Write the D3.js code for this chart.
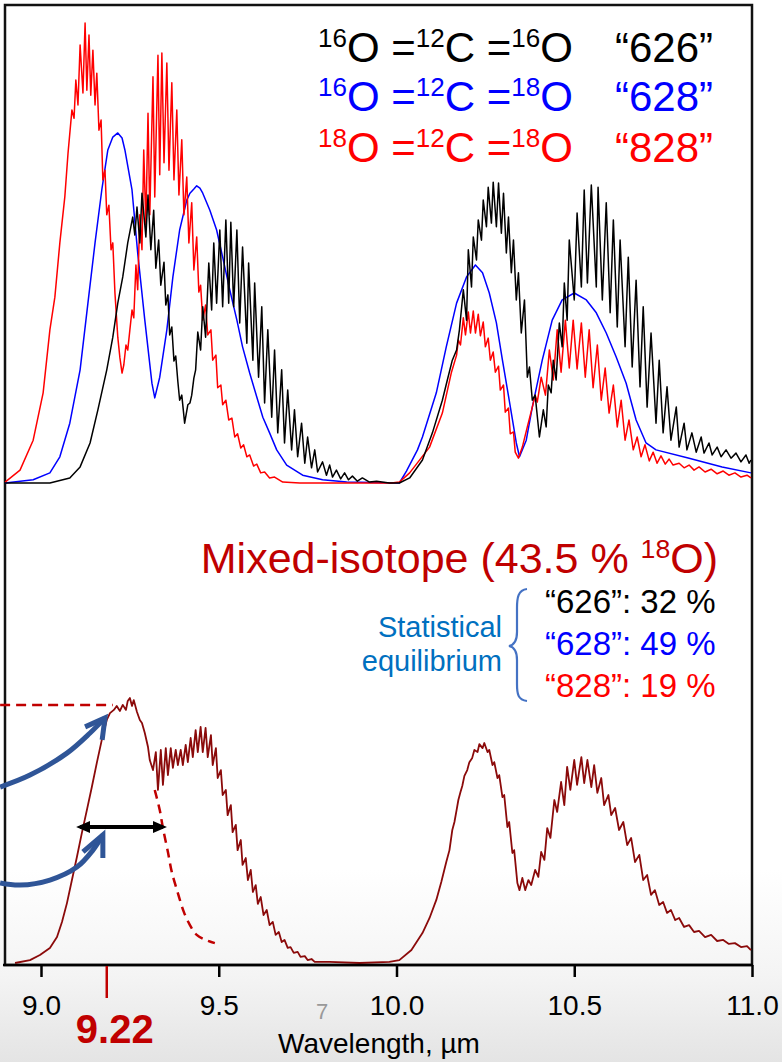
<!DOCTYPE html>
<html>
<head>
<meta charset="utf-8">
<script src="https://cdn.jsdelivr.net/npm/d3@7"></script>
<style>
body { margin: 0; background: #fff; }
text { font-family: Arial, "Liberation Sans", sans-serif; }
</style>
</head>
<body>
<div id="graphicContainer"></div>
<script>

// wavelength (µm), absorbance (arb. units, 0-100)
var wavelengthTicks = [9.0, 9.5, 10.0, 10.5, 11.0]

var spec626 = [[8.899,0],[9.025,0],[9.081,1.1],[9.110,3.5],[9.138,8.7],[9.160,15.9],[9.185,24.6],[9.202,31.7],[9.216,39.1],[9.230,44.8],[9.244,52.2],
[9.258,57.8],[9.264,53.9],[9.270,60.0],[9.278,52.2],[9.284,63.0],[9.295,53.5],[9.301,62.6],[9.309,50.7],[9.317,59.3],[9.323,46.7],[9.331,52.8],[9.337,43.0],[9.346,48.0],[9.351,38.7],[9.357,40.9],[9.362,32.2],[9.368,33.9],[9.374,26.5],[9.379,27.6],[9.385,22.0],[9.390,18.0],[9.396,19.1],[9.404,13.0],[9.413,17.0],[9.419,17.4],[9.424,19.1],[9.430,22.8],[9.435,24.6],[9.441,32.8],[9.449,28.9],[9.455,38.3],[9.463,31.7],[9.472,47.8],[9.480,37.6],[9.486,52.2],[9.494,39.1],[9.503,55.0],[9.511,38.3],[9.520,57.2],[9.528,39.1],[9.534,56.7],[9.542,38.3],[9.551,55.0],[9.559,34.8],[9.567,51.3],[9.579,30.4],[9.584,47.8],[9.596,26.7],[9.601,43.5],[9.612,23.0],[9.621,38.3],[9.629,17.4],[9.638,33.3],[9.649,14.3],[9.657,28.9],[9.666,10.9],[9.677,24.6],[9.685,8.7],[9.694,20.2],[9.705,7.2],[9.713,15.9],[9.722,5.7],[9.733,13.0],[9.742,4.3],[9.750,10.0],[9.761,3.3],[9.770,7.2],[9.778,2.4],[9.792,4.6],[9.803,1.7],[9.812,3.9],[9.820,1.3],[9.831,2.8],[9.843,0.9],[9.854,2.2],[9.865,0.7],[9.876,1.5],[9.890,0.4],[9.904,1.1],[9.924,0.2],[9.944,0.4],[9.980,0],
[10.008,0],[10.037,1.1],[10.073,5.0],[10.101,10.9],[10.129,18.0],[10.143,22.4],[10.157,26.7],[10.169,28.9],[10.177,33.3],[10.188,42.0],[10.197,35.4],[10.202,50.7],[10.211,42.6],[10.216,53.5],[10.225,48.5],[10.230,57.2],[10.239,52.8],[10.244,61.5],[10.253,55.7],[10.258,64.3],[10.267,56.5],[10.272,65.4],[10.281,55.7],[10.287,65.2],[10.295,54.3],[10.301,63.0],[10.309,50.0],[10.315,57.8],[10.323,45.7],[10.329,52.8],[10.337,39.8],[10.343,45.7],[10.351,32.6],[10.360,39.8],[10.368,23.0],[10.374,25.2],[10.382,18.0],[10.390,19.1],[10.402,10.0],[10.413,15.9],[10.421,12.2],[10.427,21.3],[10.435,19.6],[10.441,26.7],[10.449,22.4],[10.458,34.8],[10.466,29.6],[10.472,43.5],[10.480,35.4],[10.486,52.8],[10.500,39.8],[10.508,58.7],[10.520,42.6],[10.528,63.7],[10.537,43.5],[10.548,64.8],[10.562,42.6],[10.567,64.3],[10.579,39.8],[10.590,60.9],[10.601,37.0],[10.610,57.2],[10.621,33.9],[10.629,52.8],[10.643,29.6],[10.652,49.1],[10.663,25.2],[10.674,44.1],[10.685,20.9],[10.694,38.3],[10.705,16.5],[10.716,32.6],[10.730,13.0],[10.739,26.7],[10.750,10.9],[10.761,20.9],[10.772,9.3],[10.787,16.5],[10.795,7.8],[10.809,13.0],[10.817,7.2],[10.831,10.9],[10.843,6.7],[10.857,10.0],[10.865,6.5],[10.879,8.7],[10.888,6.1],[10.902,7.8],[10.913,5.7],[10.927,7.2],[10.941,5.4],[10.955,6.5],[10.969,4.6],[10.983,6.1],[10.992,4.3],[10.997,5.0]]

var spec628 = [[8.899,0],[8.978,0.7],[9.025,2.2],[9.053,5.7],[9.081,13.0],[9.110,24.6],[9.132,39.1],[9.152,52.2],[9.171,63.7],[9.188,72.4],[9.202,75.2],[9.216,76.1],[9.228,75.0],[9.236,72.4],[9.256,63.7],[9.272,50.0],[9.292,35.4],[9.312,21.7],[9.320,18.5],[9.334,23.0],[9.354,33.3],[9.371,44.8],[9.390,55.0],[9.410,61.5],[9.419,63.0],[9.430,63.9],[9.438,64.6],[9.447,64.1],[9.455,63.0],[9.475,59.3],[9.494,55.0],[9.511,49.1],[9.531,42.0],[9.551,35.4],[9.567,29.6],[9.587,23.9],[9.607,18.7],[9.624,14.3],[9.643,10.9],[9.663,7.2],[9.691,3.9],[9.736,1.7],[9.792,0.7],[9.860,0.2],[10.008,0],
[10.028,2.6],[10.059,7.2],[10.073,10.0],[10.112,19.6],[10.140,29.6],[10.169,39.1],[10.197,44.8],[10.222,47.4],[10.242,45.7],[10.261,41.3],[10.281,34.8],[10.298,26.7],[10.317,18.0],[10.337,8.7],[10.346,5.7],[10.365,9.3],[10.382,16.5],[10.410,26.7],[10.438,35.4],[10.466,39.8],[10.500,41.3],[10.534,39.8],[10.562,37.0],[10.590,32.6],[10.618,27.4],[10.646,21.7],[10.674,13.7],[10.702,8.7],[10.730,7.2],[10.823,5.4],[10.916,3.5],[10.997,2.2]]

var spec828 = [[8.899,0.2],[8.941,2.8],[8.978,9.3],[9.006,19.6],[9.025,33.3],[9.039,40.4],[9.053,52.2],[9.067,62.2],[9.076,71.7],[9.087,81.1],[9.093,79.3],[9.098,87.6],[9.104,82.2],[9.110,95.2],[9.118,84.8],[9.124,100],[9.129,85.4],[9.135,97.4],[9.140,84.3],[9.146,94.1],[9.152,82.2],[9.157,89.1],[9.163,76.7],[9.169,78.9],[9.174,65.9],[9.180,68.0],[9.185,58.3],[9.191,60.4],[9.197,50.7],[9.202,52.2],[9.208,41.3],[9.216,31.7],[9.222,27.2],[9.228,23.9],[9.233,25.7],[9.239,30.0],[9.244,28.9],[9.250,33.3],[9.256,37.6],[9.261,35.9],[9.267,47.4],[9.272,42.0],[9.278,58.3],[9.284,50.7],[9.289,72.4],[9.295,56.1],[9.301,80.4],[9.306,58.3],[9.315,88.3],[9.320,62.2],[9.329,93.0],[9.334,67.0],[9.340,93.5],[9.346,69.6],[9.354,91.3],[9.360,68.0],[9.368,87.0],[9.374,65.9],[9.382,81.1],[9.388,62.6],[9.396,74.6],[9.402,58.3],[9.410,66.5],[9.416,52.2],[9.424,60.9],[9.430,46.3],[9.438,53.5],[9.444,41.5],[9.449,43.0],[9.455,35.4],[9.463,38.7],[9.469,32.2],[9.478,33.3],[9.483,26.7],[9.492,27.8],[9.497,20.7],[9.506,21.3],[9.511,17.0],[9.520,18.0],[9.528,13.7],[9.537,14.1],[9.545,10.0],[9.553,10.7],[9.562,7.6],[9.570,8.3],[9.579,5.7],[9.587,6.1],[9.598,3.7],[9.607,4.1],[9.618,2.2],[9.629,2.4],[9.643,1.1],[9.657,1.3],[9.680,0.2],[9.728,0],[9.986,0],
[10.008,0.2],[10.037,2.2],[10.093,7.8],[10.129,15.2],[10.154,23.9],[10.169,27.8],[10.174,31.1],[10.180,30.0],[10.188,35.9],[10.194,32.2],[10.202,37.2],[10.208,32.6],[10.216,37.4],[10.222,32.6],[10.230,36.7],[10.236,32.0],[10.244,35.0],[10.250,29.6],[10.258,31.5],[10.264,26.7],[10.272,28.5],[10.278,24.1],[10.287,25.4],[10.292,20.2],[10.301,21.3],[10.306,15.4],[10.315,16.3],[10.320,10.7],[10.329,11.1],[10.334,6.7],[10.343,5.4],[10.354,7.8],[10.368,12.2],[10.382,16.5],[10.390,19.1],[10.396,17.6],[10.407,23.0],[10.419,19.1],[10.430,28.9],[10.441,22.4],[10.452,33.3],[10.463,24.1],[10.475,35.4],[10.486,25.0],[10.497,35.4],[10.508,24.8],[10.520,34.8],[10.531,23.0],[10.542,33.3],[10.553,20.7],[10.565,30.0],[10.576,18.0],[10.587,25.0],[10.598,15.2],[10.610,21.3],[10.621,12.2],[10.632,18.0],[10.643,9.3],[10.654,13.7],[10.666,7.2],[10.677,10.0],[10.688,5.7],[10.699,8.3],[10.711,4.8],[10.722,6.7],[10.733,4.3],[10.744,5.9],[10.756,4.1],[10.767,5.2],[10.778,3.9],[10.795,4.3],[10.809,3.3],[10.823,3.9],[10.837,2.8],[10.851,3.5],[10.868,2.4],[10.885,3.0],[10.902,2.0],[10.919,2.6],[10.935,1.7],[10.952,2.2],[10.969,1.3],[10.986,1.7],[10.997,1.1]]

var specMixed = [[8.927,0],[8.969,1.1],[8.997,3.0],[9.025,5.7],[9.045,9.8],[9.059,15.5],[9.073,22.6],[9.087,31.3],[9.101,40.0],[9.115,49.1],[9.129,57.7],[9.143,66.4],[9.157,75.5],[9.171,84.2],[9.185,91.7],[9.194,94.3],[9.205,95.5],[9.213,97.0],[9.222,95.1],[9.230,97.4],[9.239,95.5],[9.244,98.9],[9.250,100],[9.256,97.0],[9.261,99.2],[9.270,94.7],[9.278,91.7],[9.284,90.6],[9.292,86.8],[9.301,81.5],[9.306,76.6],[9.315,72.8],
[9.323,79.6],[9.329,65.3],[9.337,80.4],[9.343,67.2],[9.351,81.1],[9.357,70.9],[9.365,81.1],[9.371,73.6],[9.379,80.4],[9.385,74.7],[9.393,80.4],[9.399,74.7],[9.407,82.3],[9.413,75.8],[9.421,84.9],[9.427,77.7],[9.435,87.9],[9.441,79.6],[9.449,89.1],[9.455,79.6],[9.463,88.7],[9.469,77.7],[9.478,86.0],[9.483,74.7],[9.492,81.1],[9.497,69.8],
[9.506,72.8],[9.511,63.4],[9.520,65.3],[9.525,55.8],[9.534,59.6],[9.539,49.4],[9.548,52.1],[9.553,42.6],[9.562,46.4],[9.567,37.0],[9.576,39.6],[9.582,31.3],[9.590,35.1],[9.596,26.8],[9.604,29.4],[9.610,22.3],[9.618,24.9],[9.626,18.1],[9.635,20.0],[9.643,14.3],[9.652,15.5],[9.660,10.6],[9.669,11.7],[9.677,7.9],[9.685,8.7],[9.694,5.7],[9.702,6.0],[9.711,3.8],[9.722,4.2],[9.730,2.3],[9.742,2.6],[9.750,1.1],[9.761,1.5],[9.770,0.4],[9.812,0.4],[9.896,0],[9.980,0.4],
[10.008,1.1],[10.042,4.9],[10.073,11.3],[10.093,17.0],[10.112,23.8],[10.126,30.6],[10.140,38.1],[10.149,42.6],[10.157,50.2],[10.163,53.2],[10.169,57.7],[10.174,61.5],[10.180,64.5],[10.185,66.8],[10.191,70.6],[10.199,72.8],[10.205,75.8],[10.213,77.4],[10.219,80.4],[10.228,79.6],[10.233,82.6],[10.242,81.1],[10.247,83.0],[10.256,79.6],[10.261,80.4],[10.270,74.7],[10.275,75.8],[10.284,69.8],[10.289,70.9],[10.298,62.6],[10.303,63.4],[10.312,51.3],[10.317,53.2],[10.326,41.5],[10.331,42.6],[10.340,30.2],[10.346,27.5],[10.354,32.1],[10.362,27.5],[10.371,31.3],[10.379,29.4],[10.390,35.1],[10.399,32.5],[10.407,41.9],[10.416,38.9],[10.424,50.9],[10.433,47.2],[10.444,61.5],[10.452,57.0],[10.463,68.3],[10.472,59.6],[10.480,74.0],[10.489,65.3],[10.500,76.6],[10.508,67.2],[10.520,77.7],[10.528,67.9],[10.537,76.6],[10.548,66.4],[10.556,74.7],[10.565,64.2],[10.576,69.8],[10.584,59.6],[10.596,63.4],[10.604,55.8],[10.615,58.5],[10.626,50.2],[10.638,53.2],[10.649,44.5],[10.660,47.2],[10.671,38.1],[10.683,40.8],[10.694,31.3],[10.705,33.2],[10.716,25.7],[10.727,27.5],[10.739,21.9],[10.750,23.0],[10.761,18.9],[10.772,20.0],[10.784,16.2],[10.795,17.0],[10.809,13.6],[10.823,14.3],[10.837,11.7],[10.851,12.1],[10.868,9.8],[10.885,10.6],[10.902,8.3],[10.919,8.7],[10.935,7.2],[10.952,7.5],[10.969,6.0],[10.986,6.4],[10.997,4.9]]

// dashed fit of the 9.22 peak wing
var fitTail = [[9.320,65.3],[9.334,57.7],[9.343,50.9],[9.357,41.9],[9.368,34.3],[9.385,26.4],[9.402,19.2],[9.419,14.3],[9.438,10.6],[9.463,8.7],[9.489,7.5]]
var peakLevel = [[8.885,97.4],[9.202,97.4]]
var fwhm = [[9.110,51.3],[9.343,51.3]]
var arrowUpper = [[8.885,66.4],[8.969,70.9],[9.073,79.2],[9.138,86.8],[9.180,92.5]]
var arrowUpperHead = [[9.124,89.1],[9.180,92.5],[9.172,84.2]]
var arrowLower = [[8.885,30.2],[8.941,29.4],[9.025,31.3],[9.101,36.2],[9.146,42.6],[9.174,48.3]]
var arrowLowerHead = [[9.118,41.9],[9.174,48.3],[9.174,39.6]]
var markedPeak = 9.185
var markedLabel = "9.22"

var isotopologues = ["“626”", "“628”", "“828”"]
var formulas = [["16", "O =", "12", "C =", "16", "O"], ["16", "O =", "12", "C =", "18", "O"], ["18", "O =", "12", "C =", "18", "O"]]
var shares = ["32 %", "49 %", "19 %"]
var colors = ["#000000", "#0000ff", "#ff0000"]

var width = 782, height = 1062

var svg = d3.select("#graphicContainer").append("svg")
	.attr("width", width)
	.attr("height", height)

var defs = svg.append("defs")

// faint slide background at the bottom
var bg = defs.append("linearGradient").attr("id", "bgGrad")
	.attr("gradientUnits", "userSpaceOnUse")
	.attr("x1", 0).attr("y1", 870).attr("x2", 0).attr("y2", 1062)
bg.append("stop").attr("offset", 0).attr("stop-color", "#ffffff")
bg.append("stop").attr("offset", 0.55).attr("stop-color", "#f4f4f4")
bg.append("stop").attr("offset", 1).attr("stop-color", "#e4e4e4")

svg.append("rect").attr("x", 0).attr("y", 870).attr("width", width).attr("height", 192)
	.attr("fill", "url(#bgGrad)")

defs.append("marker").attr("id", "tip")
	.attr("markerUnits", "userSpaceOnUse")
	.attr("viewBox", "0 0 14 12")
	.attr("markerWidth", 14).attr("markerHeight", 12)
	.attr("refX", 10).attr("refY", 6)
	.attr("orient", "auto-start-reverse")
	.append("path").attr("d", "M0,0L14,6L0,12z").attr("fill", "#000")

var x = d3.scaleLinear().domain([9, 11]).range([41, 752])
var yTop = d3.scaleLinear().domain([0, 100]).range([483, 23])
var yBot = d3.scaleLinear().domain([0, 100]).range([963, 698])

var lineTop = d3.line().x(d => x(d[0])).y(d => yTop(d[1]))
var lineBot = d3.line().x(d => x(d[0])).y(d => yBot(d[1]))
var lineCurve = d3.line().x(d => x(d[0])).y(d => yBot(d[1])).curve(d3.curveCatmullRom)

// frame
svg.append("rect")
	.attr("x", 5).attr("y", 5)
	.attr("width", x(11) - 5).attr("height", 960)
	.attr("fill", "none")
	.attr("stroke", "#111")
	.attr("stroke-width", 2.5)

// top spectra
var topSeries = [spec628, spec828, spec626]
var topColors = ["#0000ff", "#ff0000", "#000000"]
topSeries.forEach(function (s, i) {
	svg.append("path")
		.datum(s)
		.attr("d", lineTop)
		.attr("fill", "none")
		.attr("stroke", topColors[i])
		.attr("stroke-width", 1.5)
		.attr("stroke-linejoin", "round")
})

// mixed spectrum
svg.append("path")
	.datum(specMixed)
	.attr("d", lineBot)
	.attr("fill", "none")
	.attr("stroke", "#8b0a0a")
	.attr("stroke-width", 1.8)
	.attr("stroke-linejoin", "round")

svg.append("path")
	.datum(fitTail)
	.attr("d", lineCurve)
	.attr("fill", "none")
	.attr("stroke", "#c00000")
	.attr("stroke-width", 2.5)
	.attr("stroke-dasharray", "9,6")

svg.append("path")
	.datum(peakLevel)
	.attr("d", lineBot)
	.attr("fill", "none")
	.attr("stroke", "#c00000")
	.attr("stroke-width", 2.5)
	.attr("stroke-dasharray", "10,6")

svg.append("path")
	.datum(fwhm)
	.attr("d", lineBot)
	.attr("stroke", "#000")
	.attr("stroke-width", 4)
	.attr("marker-start", "url(#tip)")
	.attr("marker-end", "url(#tip)")

// blue arrows
;[[arrowUpper, arrowUpperHead], [arrowLower, arrowLowerHead]].forEach(function (a) {
	svg.append("path").datum(a[0]).attr("d", lineCurve)
		.attr("fill", "none").attr("stroke", "#2f5597").attr("stroke-width", 5)
	svg.append("path").datum(a[1]).attr("d", lineBot)
		.attr("fill", "none").attr("stroke", "#2f5597").attr("stroke-width", 5)
		.attr("stroke-linejoin", "miter")
})

// x axis
var xAxis = d3.axisBottom(x)
	.tickValues(wavelengthTicks)
	.tickFormat(d3.format(".1f"))
	.tickSize(12)
	.tickSizeOuter(0)
	.tickPadding(18)

var gx = svg.append("g")
	.attr("transform", "translate(0,965)")
	.call(xAxis)
gx.select(".domain").remove()
gx.selectAll("line").attr("stroke", "#000").attr("stroke-width", 2.5)
gx.selectAll("text").attr("font-size", 28).attr("font-family", "Arial, 'Liberation Sans', sans-serif").attr("fill", "#000")

svg.append("line")
	.attr("x1", 3).attr("x2", x(11) + 1)
	.attr("y1", 965).attr("y2", 965)
	.attr("stroke", "#000").attr("stroke-width", 2.5)

svg.append("line")
	.attr("x1", x(markedPeak)).attr("x2", x(markedPeak))
	.attr("y1", 966).attr("y2", 998)
	.attr("stroke", "#c00000").attr("stroke-width", 2.5)

svg.append("text")
	.attr("x", x(markedPeak) + 8).attr("y", 1043)
	.attr("text-anchor", "middle")
	.attr("font-size", 40).attr("font-weight", "bold")
	.attr("fill", "#c00000")
	.text(markedLabel)

svg.append("text")
	.attr("x", 379).attr("y", 1053)
	.attr("text-anchor", "middle")
	.attr("font-size", 28)
	.text("Wavelength, µm")

svg.append("text")
	.attr("x", 322).attr("y", 1019)
	.attr("text-anchor", "middle")
	.attr("font-size", 22)
	.attr("fill", "#999")
	.text("7")

// formula with superscripts
function formula(sel, px, py, parts, color, size, anchor) {
	var t = sel.append("text").attr("x", px).attr("y", py)
		.attr("fill", color).attr("font-size", size)
		.attr("text-anchor", anchor || "start")
	var up = false
	parts.forEach(function (p, i) {
		var isSup = /^\d+$/.test(p) && i < parts.length - 1 && /^[OC]/.test(parts[i + 1])
		var s = t.append("tspan").text(p)
		if (isSup) {
			s.attr("font-size", size * 0.62).attr("dy", up ? 0 : -size * 0.36)
			up = true
		} else if (up) {
			s.attr("dy", size * 0.36)
			up = false
		}
	})
	return t
}

var legendBase = [62, 111, 162]
formulas.forEach(function (f, i) {
	formula(svg, 318, legendBase[i], f, colors[i], 42)
	svg.append("text").attr("x", 615).attr("y", legendBase[i])
		.attr("font-size", 42).attr("fill", colors[i])
		.text(isotopologues[i])
})

formula(svg, 718, 573, ["Mixed-isotope (43.5 % ", "18", "O)"], "#c00000", 43, "end")

svg.append("text").attr("x", 502).attr("y", 637)
	.attr("text-anchor", "end").attr("font-size", 29).attr("fill", "#0070c0")
	.text("Statistical")
svg.append("text").attr("x", 502).attr("y", 671)
	.attr("text-anchor", "end").attr("font-size", 29).attr("fill", "#0070c0")
	.text("equilibrium")

svg.append("path")
	.attr("d", "M527,589C518,590 517,598 517,608L517,632C517,640 514,645 509,646C514,647 517,652 517,660L517,684C517,694 518,700 527,701")
	.attr("fill", "none").attr("stroke", "#4472c4").attr("stroke-width", 2.2)

var shareBase = [613, 655, 697]
isotopologues.forEach(function (iso, i) {
	svg.append("text").attr("x", 545).attr("y", shareBase[i])
		.attr("font-size", 33).attr("fill", colors[i])
		.text(iso + ": " + shares[i])
})

</script>
</body>
</html>
